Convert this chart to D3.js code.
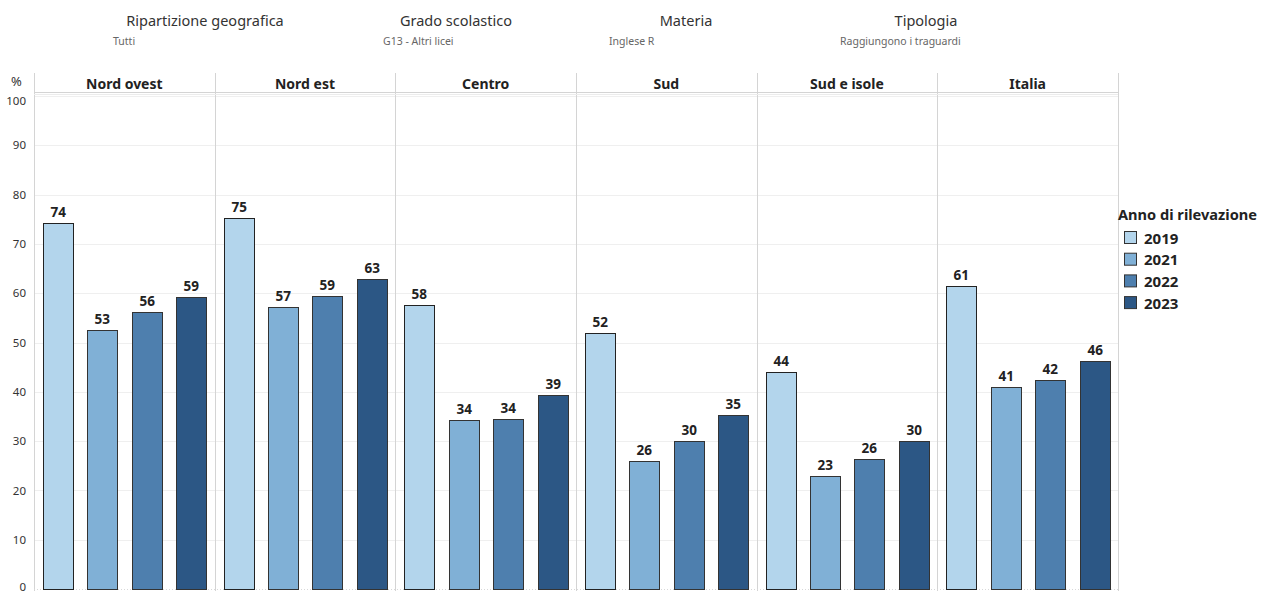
<!DOCTYPE html>
<html><head><meta charset="utf-8">
<script src="https://cdn.jsdelivr.net/npm/d3@7"></script>
<style>body{margin:0;background:#fff;font-family:"Noto Sans",sans-serif}</style>
</head><body><svg id="c" width="1263" height="593" font-family="'Noto Sans',sans-serif"></svg>
<script>
const regions = ["Nord ovest","Nord est","Centro","Sud","Sud e isole","Italia"];
const years = ["2019","2021","2022","2023"];
const v2019 = [74.2, 75.3, 57.7, 52.0, 44.1, 61.4];
const v2021 = [52.6, 57.3, 34.3, 26.0, 23.0, 40.9];
const v2022 = [56.1, 59.4, 34.45, 30.1, 26.4, 42.4];
const v2023 = [59.2, 62.8, 39.4, 35.2, 30.1, 46.2];
const yTicks = [0,10,20,30,40,50,60,70,80,90,100];
const filters = [
  {title:"Ripartizione geografica", value:"Tutti"},
  {title:"Grado scolastico", value:"G13 - Altri licei"},
  {title:"Materia", value:"Inglese R"},
  {title:"Tipologia", value:"Raggiungono i traguardi"}
];
const colors = ["#b3d5ec","#80b0d6","#4e7fae","#2c5785"];
const series = [v2019,v2021,v2022,v2023];

(function(){
const svg = d3.select("#c");
const L = 34, R = 1118, T = 73, HB = 93, B = 589;
const x0 = d3.scaleBand().domain(regions).range([L,R]).padding(0);
const x1 = d3.scaleBand().domain(years).range([0,x0.bandwidth()]).paddingInner(0.335).paddingOuter(0.2);
const y = d3.scaleLinear().domain([0,100]).range([B, B-493]);
const color = d3.scaleOrdinal().domain(years).range(colors);

const fx = [205,456,686,926];
const sx = [113,383,609,840];
filters.forEach((f,i)=>{
  svg.append("text").attr("x",fx[i]).attr("y",26).attr("text-anchor","middle")
    .attr("font-size",14.5).attr("fill","#333").text(f.title);
  svg.append("text").attr("x",sx[i]).attr("y",45)
    .attr("font-size",10.5).attr("fill","#666").text(f.value);
});

svg.append("g").selectAll("line").data(yTicks.filter(d=>d>0)).join("line")
  .attr("x1",L).attr("x2",R).attr("y1",d=>Math.round(y(d))+0.5).attr("y2",d=>Math.round(y(d))+0.5)
  .attr("stroke","#efefef").attr("stroke-width",1);

const ya = svg.append("g").attr("transform",`translate(${L},0)`)
  .call(d3.axisLeft(y).tickValues(yTicks).tickSize(0).tickPadding(8));
ya.select(".domain").remove();
ya.selectAll("text").attr("font-size",11.5).attr("fill","#333").attr("font-family","'Noto Sans',sans-serif")
  .attr("dy",d=> d===100 ? "0.75em" : d===0 ? "0.1em" : "0.32em");
svg.append("text").attr("x",11).attr("y",86).attr("font-size",13).attr("fill","#333").text("%");

svg.append("g").selectAll("line").data(regions.concat(["end"])).join("line")
  .attr("x1",(d,i)=> i<regions.length ? Math.round(x0(d))+0.5 : R+0.5)
  .attr("x2",(d,i)=> i<regions.length ? Math.round(x0(d))+0.5 : R+0.5)
  .attr("y1",T).attr("y2",B+2).attr("stroke","#d4d4d4");
svg.append("line").attr("x1",L).attr("x2",R).attr("y1",HB-0.5).attr("y2",HB-0.5).attr("stroke","#d4d4d4");
svg.append("line").attr("x1",L).attr("x2",R).attr("y1",HB+1.5).attr("y2",HB+1.5).attr("stroke","#ececec");
svg.append("line").attr("x1",L).attr("x2",R).attr("y1",B+0.5).attr("y2",B+0.5)
  .attr("stroke","#d8d8d8").attr("stroke-dasharray","1,2");

svg.append("g").selectAll("text").data(regions).join("text")
  .attr("x",d=>x0(d)+x0.bandwidth()/2).attr("y",89).attr("text-anchor","middle")
  .attr("font-size",14).attr("font-weight","bold").attr("fill","#222").text(d=>d);

const data = [];
regions.forEach((r,i)=>years.forEach((yr,j)=>data.push({r,yr,v:series[j][i]})));
const g = svg.append("g");
g.selectAll("rect").data(data).join("rect")
  .attr("x",d=>Math.round(x0(d.r)+x1(d.yr))+0.5).attr("width",Math.round(x1.bandwidth()))
  .attr("y",d=>Math.round(y(d.v))+0.5).attr("height",d=>B-Math.round(y(d.v)))
  .attr("fill",d=>color(d.yr)).attr("stroke",d=>d.yr==="2019"?"#222":"#333").attr("stroke-width",1);
g.selectAll("text").data(data).join("text")
  .attr("x",d=>Math.round(x0(d.r)+x1(d.yr))+x1.bandwidth()/2+0.5).attr("y",d=>y(d.v)-6)
  .attr("text-anchor","middle").attr("font-size",13.5).attr("font-weight","bold").attr("fill","#222")
  .text(d=>Math.round(d.v));

const lg = svg.append("g");
lg.append("text").attr("x",1118).attr("y",220).attr("font-size",14.6).attr("font-weight","bold").attr("fill","#222").text("Anno di rilevazione");
years.forEach((yr,i)=>{
  const cy = 238 + i*21.7;
  lg.append("rect").attr("x",1124.5).attr("y",cy-6.5).attr("width",12).attr("height",12)
    .attr("fill",color(yr)).attr("stroke","#333");
  lg.append("text").attr("x",1144).attr("y",cy+5.5).attr("font-size",15).attr("font-weight","bold").attr("fill","#222").text(yr);
});
})();
</script></body></html>
